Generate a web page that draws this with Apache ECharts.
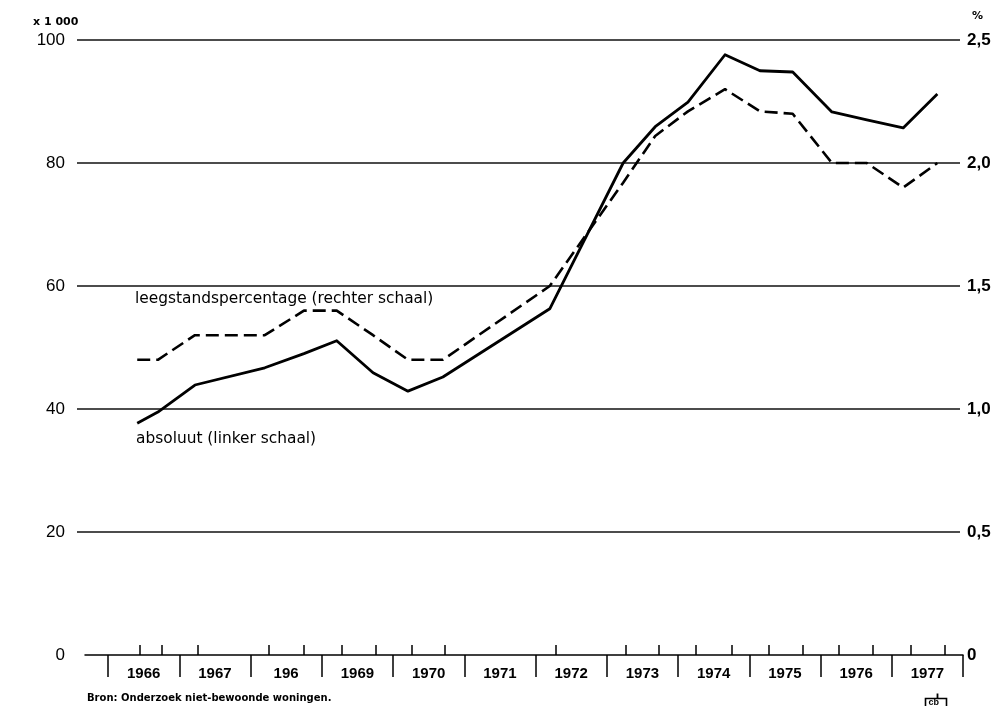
<!DOCTYPE html>
<html>
<head>
<meta charset="utf-8">
<script src="https://cdn.jsdelivr.net/npm/echarts@6/dist/echarts.min.js"></script>
<style>
  html, body { margin: 0; background: #fff; }
  #chart { width: 995px; height: 706px; }
</style>
</head>
<body>
<div id="chart"></div>
<script>
// moments where the lines bend (decimal years)
const dates = [1966.41, 1966.70, 1967.22, 1968.20, 1968.75, 1969.21, 1969.72, 1970.21, 1970.70,
  1972.20, 1973.23, 1973.68, 1974.14, 1974.66, 1975.15, 1975.61, 1976.16, 1976.65, 1977.16, 1977.64];
// absoluut, x 1 000 woningen (linker schaal)
const absoluut = [37.7, 39.5, 43.9, 46.7, 49.0, 51.1, 45.9, 42.9, 45.2,
  56.3, 80.0, 85.9, 89.9, 97.6, 95.0, 94.8, 88.3, 87.0, 85.7, 91.2];
// leegstandspercentage (rechter schaal)
const percentage = [1.20, 1.20, 1.30, 1.30, 1.40, 1.40, 1.30, 1.20, 1.20,
  1.50, 1.92, 2.11, 2.21, 2.30, 2.21, 2.20, 2.00, 2.00, 1.90, 2.00];
// small upward marks on the time axis (survey dates)
const surveyTicks = [1966.44, 1966.76, 1967.26, 1968.26, 1968.75, 1969.28, 1969.76, 1970.27, 1970.73,
  1972.29, 1973.27, 1973.73, 1974.25, 1974.76, 1975.28, 1975.75, 1976.25, 1976.74, 1977.26, 1977.75];
const yearBounds = [1966, 1967, 1968, 1969, 1970, 1971, 1972, 1973, 1974, 1975, 1976, 1977, 1978];
const yearLabels = ['1966', '1967', '196', '1969', '1970', '1971', '1972', '1973', '1974', '1975', '1976', '1977'];

const chart = echarts.init(document.getElementById('chart'));

const xMin = 1965.677, xMax = 1978;
const labelFont = 'Liberation Sans, Arial, sans-serif';
const textFont = 'DejaVu Sans, sans-serif';

const option = {
  animation: false,
  backgroundColor: '#fff',
  grid: [
    { left: 77, right: 35, top: 40, bottom: 51 },   // gridlines + scales
    { left: 85, right: 32, top: 40, bottom: 51 },   // data + years
    { left: 85, right: 32, top: 40, bottom: 51 }    // survey marks
  ],
  xAxis: [
    { gridIndex: 0, type: 'value', min: 0, max: 1, show: false },
    {
      gridIndex: 1, type: 'value', min: xMin, max: xMax,
      axisLine: { show: true, lineStyle: { color: '#000', width: 1.5 } },
      axisTick: { show: true, customValues: yearBounds, length: 22, lineStyle: { color: '#000', width: 1.5 } },
      axisLabel: {
        customValues: yearBounds.slice(0, -1).map(y => y + 0.5),
        formatter: v => yearLabels[Math.round(v - 1966.5)],
        color: '#000', fontFamily: labelFont, fontSize: 15, fontWeight: 'bold', margin: 11
      },
      splitLine: { show: false }
    },
    {
      gridIndex: 2, type: 'value', min: xMin, max: xMax,
      axisLine: { show: false },
      axisTick: { show: true, inside: true, customValues: surveyTicks, length: 10, lineStyle: { color: '#000', width: 1.5 } },
      axisLabel: { show: false },
      splitLine: { show: false }
    }
  ],
  yAxis: [
    {
      gridIndex: 0, type: 'value', min: 0, max: 100, interval: 20, position: 'left',
      axisLine: { show: false }, axisTick: { show: false },
      axisLabel: { color: '#000', fontFamily: labelFont, fontSize: 17, margin: 12 },
      splitLine: { show: true, showMinLine: false, lineStyle: { color: '#111', width: 1.5 } }
    },
    {
      gridIndex: 0, type: 'value', min: 0, max: 2.5, interval: 0.5, position: 'right',
      axisLine: { show: false }, axisTick: { show: false },
      axisLabel: {
        color: '#000', fontFamily: labelFont, fontSize: 17, fontWeight: 'bold', margin: 7,
        formatter: v => v === 0 ? '0' : v.toFixed(1).replace('.', ',')
      },
      splitLine: { show: false }
    },
    { gridIndex: 1, type: 'value', min: 0, max: 100, show: false },
    { gridIndex: 1, type: 'value', min: 0, max: 2.5, show: false },
    { gridIndex: 2, type: 'value', min: 0, max: 1, show: false }
  ],
  series: [
    {
      name: 'absoluut', type: 'line', xAxisIndex: 1, yAxisIndex: 2,
      data: dates.map((d, i) => [d, absoluut[i]]),
      symbol: 'none',
      lineStyle: { color: '#000', width: 2.8, join: 'round' }
    },
    {
      name: 'leegstandspercentage', type: 'line', xAxisIndex: 1, yAxisIndex: 3,
      data: dates.map((d, i) => [d, percentage[i]]),
      symbol: 'none',
      lineStyle: { color: '#000', width: 2.6, type: [13, 6] }
    }
  ],
  graphic: [
    { type: 'text', left: 33, top: 17, style: { text: 'x 1 000', font: 'bold 11px ' + textFont, fill: '#000' } },
    { type: 'text', left: 972, top: 11, style: { text: '%', font: 'bold 11px ' + textFont, fill: '#000' } },
    { type: 'text', left: 135, top: 291, style: { text: 'leegstandspercentage (rechter schaal)', font: '15.4px ' + textFont, fill: '#000' } },
    { type: 'text', left: 136, top: 431, style: { text: 'absoluut (linker schaal)', font: '15.4px ' + textFont, fill: '#000' } },
    { type: 'text', left: 87, top: 693, style: { text: 'Bron: Onderzoek niet-bewoonde woningen.', font: 'bold 10px ' + textFont, fill: '#000' } },
    {
      // cbs logo
      type: 'group', left: 923, top: 691,
      children: [
        { type: 'rect', shape: { x: 0, y: 5, width: 21, height: 9 }, style: { fill: 'none', stroke: '#000', lineWidth: 1.6 } },
        { type: 'line', shape: { x1: 12, y1: 0, x2: 12, y2: 5 }, style: { stroke: '#000', lineWidth: 1.8 } },
        { type: 'text', x: 3, y: 5, style: { text: 'cb', font: 'bold 9px ' + labelFont, fill: '#000' } }
      ]
    }
  ]
};

chart.setOption(option);
</script>
</body>
</html>
